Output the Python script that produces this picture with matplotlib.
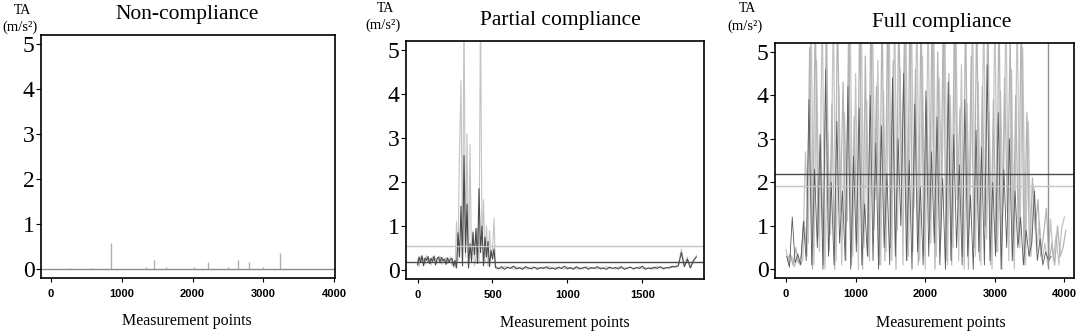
import numpy as np
import matplotlib.pyplot as plt

# ---- Non-compliance: flat baseline with a few light spikes
p1_spike_x = [270, 560, 850, 1340, 1460, 1620, 2020, 2220, 2500, 2640, 2800, 3000, 3240]
p1_spike_y = [0.03, 0.03, 0.58, 0.04, 0.21, 0.04, 0.05, 0.15, 0.04, 0.20, 0.16, 0.04, 0.35]
p1_base = 0.01
p1_end = 4000

# ---- Partial compliance (step 10 up to 520, then step 20)
p2_dark = [0.12, 0.30, 0.18, 0.33, 0.10, 0.28, 0.22, 0.31, 0.15, 0.27, 0.20, 0.32, 0.12,
           0.26, 0.30, 0.17, 0.29, 0.21, 0.25, 0.13, 0.28, 0.19, 0.24, 0.27, 0.09, 0.22,
           0.05, 0.85, 0.30, 1.45, 0.10, 2.60, 0.40, 1.50, 0.05, 0.60, 0.20, 0.85, 0.35,
           0.95, 0.15, 1.85, 0.40, 1.00, 0.10, 0.75, 0.30, 0.65, 0.08, 0.45, 0.25, 0.48, 0.06,
           0.03, 0.08, 0.02, 0.07, 0.04, 0.09, 0.03, 0.06, 0.02, 0.08, 0.05, 0.03, 0.07, 0.02,
           0.06, 0.04, 0.08, 0.03, 0.05, 0.02, 0.07, 0.04, 0.09, 0.03, 0.06, 0.02, 0.08, 0.03,
           0.05, 0.07, 0.02, 0.06, 0.04, 0.08, 0.03, 0.05, 0.02, 0.07, 0.04, 0.06, 0.03, 0.08,
           0.02, 0.05, 0.07, 0.03, 0.06, 0.04, 0.09, 0.02, 0.05, 0.03, 0.07, 0.04, 0.08, 0.03,
           0.06, 0.05, 0.09, 0.07, 0.10,
           0.40, 0.08, 0.25, 0.05, 0.22, 0.30]
p2_light = [0.25, 0.08, 0.31, 0.20, 0.27, 0.14, 0.33, 0.18, 0.26, 0.11, 0.30, 0.22, 0.28,
            0.16, 0.24, 0.32, 0.13, 0.27, 0.19, 0.29, 0.15, 0.23, 0.30, 0.12, 0.20, 0.05,
            1.10, 0.20, 2.75, 4.30, 0.15, 6.00, 0.30, 3.10, 0.10, 2.85, 0.20, 0.90, 0.10,
            0.30, 0.95, 0.20, 6.00, 0.50, 1.60, 0.20, 1.00, 0.10, 0.90, 0.30, 0.40, 1.18, 0.10,
            0.05, 0.02, 0.09, 0.04, 0.07, 0.02, 0.08, 0.03, 0.06, 0.04, 0.02, 0.08, 0.05, 0.07,
            0.03, 0.06, 0.02, 0.09, 0.04, 0.07, 0.03, 0.05, 0.02, 0.08, 0.04, 0.06, 0.03, 0.07,
            0.02, 0.05, 0.08, 0.03, 0.06, 0.02, 0.07, 0.04, 0.09, 0.03, 0.05, 0.02, 0.08, 0.04,
            0.06, 0.03, 0.07, 0.02, 0.05, 0.08, 0.03, 0.06, 0.04, 0.07, 0.02, 0.09, 0.05, 0.06,
            0.04, 0.08, 0.06, 0.10, 0.12,
            0.48, 0.10, 0.30, 0.06, 0.18, 0.34]
p2_hline_light = 0.55
p2_hline_dark = 0.18

# ---- Full compliance: two light traces (every 40 points, offset 0 / 20) and a dark one
p3_light = [0.45, 0.10, 0.30, 0.05, 0.25, 0.10, 0.20,
            2.7, 0.6, 6.0, 0.1, 4.8, 0.4, 6.0, 0.0, 3.2, 0.8, 6.0, 0.2, 4.2, 0.1, 3.6, 1.1,
            6.0, 0.3, 4.5, 0.0, 6.0, 0.5, 3.9, 0.2, 6.0, 1.6, 4.8, 0.1, 4.1, 0.4, 6.0, 0.2,
            6.0, 0.9, 4.6, 0.1, 6.0, 0.3, 6.0, 1.4, 6.0, 0.2, 4.9, 0.0, 6.0, 0.6, 6.0, 0.3,
            4.4, 1.8, 6.0, 0.1, 4.0, 0.5, 6.0, 0.2, 4.7, 0.0, 3.8, 1.2, 6.0, 0.3, 4.3, 0.1,
            6.0, 0.7, 3.6, 0.0, 6.0, 0.4, 4.1, 1.5, 6.0, 0.2, 4.6, 0.0, 6.0, 0.5, 5.1, 0.1,
            3.4, 0.3,
            1.9, 0.4, 1.1, 0.2, 0.6, 0.1, 1.15, 0.2, 0.8, 0.1, 0.95, 1.2]
p3_light2 = [0.2, 0.35, 0.1, 0.5, 0.15, 0.3,
             1.1, 0.3, 5.1, 0.0, 6.0, 0.7, 3.0, 0.1, 6.0, 0.4, 3.8, 0.0, 6.0, 1.3, 4.3, 0.2,
             5.6, 0.1, 3.5, 0.6, 6.0, 0.0, 4.9, 0.3, 6.0, 0.9, 4.2, 0.1, 6.0, 0.2, 6.0, 0.5,
             4.8, 0.0, 6.0, 1.7, 5.2, 0.2, 6.0, 0.4, 4.6, 0.1, 6.0, 0.3, 3.9, 1.1, 6.0, 0.0,
             5.0, 0.6, 6.0, 0.2, 4.5, 0.1, 6.0, 1.6, 3.7, 0.3, 6.0, 0.0, 4.9, 0.5, 6.0, 0.2,
             4.2, 1.0, 6.0, 0.1, 3.9, 0.4, 6.0, 0.0, 4.4, 1.3, 5.3, 0.2, 4.0, 0.6, 6.0, 0.1,
             3.6, 0.3, 2.1,
             0.9, 1.6, 0.3, 0.8, 1.4, 0.2, 0.6, 0.1, 1.0, 0.3, 0.5, 0.9]
p3_dark = [0.3, 0.05, 1.2, 0.15, 0.35, 0.1,
           1.1, 0.2, 3.9, 0.1, 2.3, 0.5, 3.1, 0.0, 4.6, 0.3, 2.0, 0.1, 3.4, 0.6, 1.8, 0.2,
           4.2, 0.0, 2.6, 0.4, 3.7, 0.1, 1.5, 0.3, 4.0, 0.2, 2.9, 0.0, 3.3, 0.5, 2.2, 0.1,
           4.4, 0.3, 3.0, 1.0, 4.5, 0.2, 2.5, 0.0, 3.8, 0.4, 1.9, 0.1, 4.1, 0.3, 2.7, 0.6,
           3.5, 0.1, 2.1, 0.0, 4.3, 0.2, 3.1, 0.5, 2.4, 0.1, 3.9, 0.3, 1.7, 0.0, 3.2, 0.4,
           2.8, 0.1, 4.7, 0.2, 2.0, 0.3, 3.6, 0.0, 2.3, 0.5, 3.0, 0.2, 1.8,
           0.5, 1.2, 0.1, 0.9, 0.3, 0.6, 1.8, 0.2, 0.7, 0.1, 0.4, 0.2, 0.3]
# single tall mid-grey spike near the end of the recording
p3_spike_x = 3770
p3_spike_y = 6.0
p3_hline_dark = 2.2
p3_hline_light = 1.92

titles = ["Non-compliance", "Partial compliance", "Full compliance"]

LIGHT = "#c4c4c4"
DARK = "#4a4a4a"
SERIF = "Liberation Serif"
SANS = "Liberation Sans"

W, H = 1084, 332
fig = plt.figure(figsize=(W / 100, H / 100), dpi=100)


def px_axes(l, t, r, b):
    return fig.add_axes([l / W, 1 - b / H, (r - l) / W, (b - t) / H])


ax1 = px_axes(41, 35, 335, 278)
ax2 = px_axes(406, 41, 704, 279)
ax3 = px_axes(775, 43, 1074, 278)

ax1.plot([0, p1_end], [p1_base, p1_base], color="#8a8a8a", lw=0.8)
ax1.vlines(p1_spike_x, p1_base, p1_spike_y, color="#b0b0b0", lw=1.0)
ax1.axhline(p1_base, color="#8a8a8a", lw=0.9)
ax1.set_xlim(-140, 4010)
ax1.set_xticks([0, 1000, 2000, 3000, 4000])

x2 = np.r_[np.arange(0, 530, 10), np.arange(540, 540 + 20 * (len(p2_dark) - 53), 20)]
ax2.plot(x2, p2_light, color=LIGHT, lw=0.8)
ax2.plot(x2, p2_dark, color=DARK, lw=0.8)
ax2.axhline(p2_hline_light, color=LIGHT, lw=1.0)
ax2.axhline(p2_hline_dark, color=DARK, lw=1.0)
ax2.set_xlim(-77, 1911)
ax2.set_xticks([0, 500, 1000, 1500])

x3l = np.arange(len(p3_light)) * 40
x3l2 = 20 + np.arange(len(p3_light2)) * 40
x3d = 10 + np.arange(len(p3_dark)) * 40
ax3.plot(x3l, p3_light, color=LIGHT, lw=0.9)
ax3.plot(x3l2, p3_light2, color="#b4b4b4", lw=0.9)
ax3.plot(x3d, p3_dark, color="#5a5a5a", lw=0.6)
ax3.vlines(p3_spike_x, 0, p3_spike_y, color="#909090", lw=1.0)
ax3.axhline(p3_hline_dark, color=DARK, lw=1.0)
ax3.axhline(p3_hline_light, color=LIGHT, lw=1.0)
ax3.set_xlim(-158, 4137)
ax3.set_xticks([0, 1000, 2000, 3000, 4000])

for ax in (ax1, ax2, ax3):
    ax.set_ylim(-0.2, 5.2)
    ax.set_yticks(range(6))
    for s in ax.spines.values():
        s.set_linewidth(1.2)
    ax.tick_params(axis="y", length=3.5, width=0.8, pad=1, labelsize=17)
    ax.tick_params(axis="x", length=3, width=0.8, pad=5, labelsize=8)
    for lab in ax.get_yticklabels():
        lab.set_fontfamily(SERIF)
    for lab in ax.get_xticklabels():
        lab.set_fontfamily(SANS)
        lab.set_fontweight("bold")


def ptext(x, y, s, **kw):
    fig.text(x / W, 1 - y / H, s, ha="center", va="center", family=SERIF, **kw)


ptext(187, 15, titles[0], fontsize=15.5)
ptext(560, 20, titles[1], fontsize=15.5)
ptext(942, 22, titles[2], fontsize=15.5)

for tx, ty in [(22, 10), (385, 8), (747, 9)]:
    ptext(tx, ty, "TA", fontsize=10)
    ptext(tx - 2, ty + 17, "(m/s²)", fontsize=10.5)

ptext(187, 321, "Measurement points", fontsize=11.5)
ptext(565, 323, "Measurement points", fontsize=11.5)
ptext(941, 323, "Measurement points", fontsize=11.5)

fig.savefig("out.png", dpi=100)
